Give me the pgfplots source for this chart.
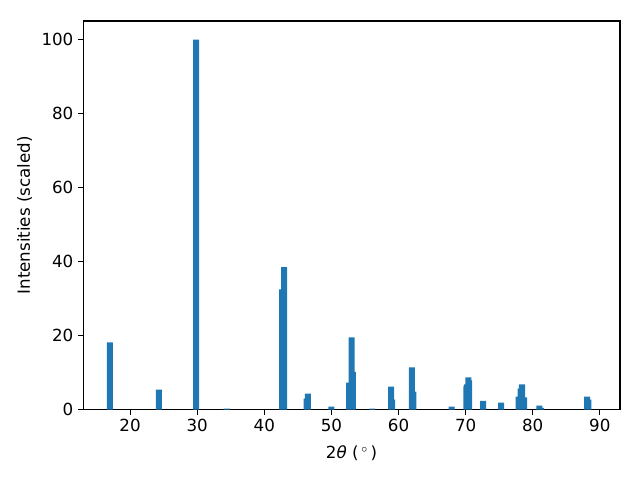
\documentclass[border=0pt]{standalone}
\usepackage{fontspec}
\setmainfont{DejaVu Sans}
\usepackage{pgfplots}
\pgfplotsset{compat=1.18}
\definecolor{c0}{HTML}{1F77B4}
\begin{document}
\begin{tikzpicture}
\path[use as bounding box] (-59.76bp,-51.12bp) rectangle (400.32bp,294.48bp);
\begin{axis}[
  at={(0,0)}, anchor=south west,
  scale only axis, width=385.92bp, height=279.36bp,
  xmin=13, xmax=93, ymin=0, ymax=105,
  xtick={20,30,...,90}, ytick={0,20,...,100},
  xtick pos=bottom, ytick pos=left,
  tick align=outside, major tick length=3.5bp,
  every tick/.style={line width=0.8bp, black},
  axis line style={line width=0.8bp},
  /pgf/number format/assume math mode=true,
  ticklabel style={font=\fontsize{12bp}{14bp}\selectfont},
  label style={font=\fontsize{12bp}{14bp}\selectfont},
  xlabel={2\textit{θ} (\,\textsuperscript{$\circ$}\,)},
  ylabel={Intensities (scaled)},
  xlabel style={yshift=-3bp},
  ylabel style={yshift=0bp},
]
\addplot[ybar, bar width=0.9, bar shift=0pt, fill=c0, draw=none] coordinates {
(17.0,18.2)
(24.3,5.4)
(29.85,100)
(34.4,0.3)
(42.65,32.5)
(42.95,38.5)
(46.3,3.0)
(46.5,4.3)
(50.0,0.8)
(52.65,7.3)
(53.0,19.5)
(53.2,10.2)
(56.1,0.3)
(58.9,6.2)
(59.05,2.7)
(62.0,11.4)
(62.2,4.9)
(67.9,0.8)
(70.1,6.3)
(70.2,6.8)
(70.4,8.7)
(70.5,7.9)
(72.6,2.4)
(75.3,1.9)
(77.9,3.5)
(78.2,5.7)
(78.4,6.8)
(78.7,3.3)
(81.0,1.1)
(81.2,0.5)
(88.1,3.5)
(88.3,2.7)
};
\end{axis}
\end{tikzpicture}
\end{document}
